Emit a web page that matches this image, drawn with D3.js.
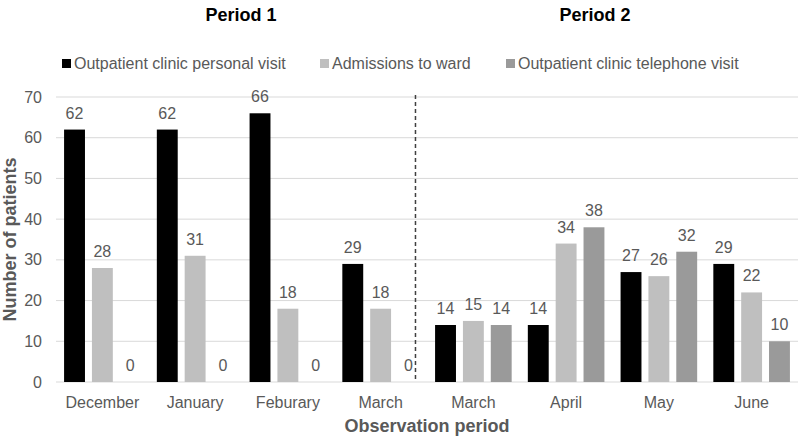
<!DOCTYPE html>
<html><head><meta charset="utf-8">
<script src="https://cdn.jsdelivr.net/npm/d3@7"></script>
<style>body{margin:0;background:#fff}svg{display:block;font-family:"Liberation Sans",Arial,sans-serif}</style>
</head><body><svg id="c" width="800" height="443"></svg>
<script>
const categories = ["December","January","Feburary","March","March","April","May","June"];
const seriesNames = ["Outpatient clinic personal visit","Admissions to ward","Outpatient clinic telephone visit"];
const personal = [62,62,66,29,14,14,27,29];
const admissions = [28,31,18,18,15,34,26,22];
const telephone = [0,0,0,0,14,38,32,10];
const yTicks = [0,10,20,30,40,50,60,70];
const periodTitles = ["Period 1","Period 2"];
const colors = ["#000000","#bfbfbf","#9a9a9a"];

const svg = d3.select("#c");
const m = {left:56, right:2, top:97, bottom:61};
const W = 800, H = 443;
const x = d3.scaleBand().domain(d3.range(categories.length)).range([m.left, W-m.right]).paddingInner(0).paddingOuter(0);
const y = d3.scaleLinear().domain([0,70]).range([H-m.bottom, m.top]);
const xs = d3.scaleBand().domain([0,1,2]).range([0, x.bandwidth()]).paddingInner(0.25).paddingOuter(0.29);

// gridlines
svg.append("g").selectAll("line").data(yTicks).join("line")
  .attr("x1", m.left).attr("x2", W-m.right)
  .attr("y1", d=>y(d)).attr("y2", d=>y(d))
  .attr("stroke", "#d9d9d9").attr("stroke-width", 1);

// y tick labels
svg.append("g").selectAll("text").data(yTicks).join("text")
  .attr("x", 42).attr("y", d=>y(d)).attr("dy","0.35em")
  .attr("text-anchor","end").attr("fill","#595959").attr("font-size",16)
  .text(d=>d);

const series = [personal, admissions, telephone];
series.forEach((vals, si) => {
  const g = svg.append("g");
  g.selectAll("rect").data(vals).join("rect")
    .attr("x", (d,i)=>x(i)+xs(si)).attr("width", xs.bandwidth())
    .attr("y", d=>y(d)).attr("height", d=>y(0)-y(d))
    .attr("fill", colors[si]);
  g.selectAll("text").data(vals).join("text")
    .attr("x", (d,i)=>x(i)+xs(si)+xs.bandwidth()/2)
    .attr("y", d=>y(d)-11)
    .attr("text-anchor","middle").attr("fill","#595959").attr("font-size",16)
    .text(d=>d);
});

// x labels
svg.append("g").selectAll("text").data(categories).join("text")
  .attr("x", (d,i)=>x(i)+x.bandwidth()/2).attr("y", 408)
  .attr("text-anchor","middle").attr("fill","#595959").attr("font-size",16)
  .text(d=>d);

// divider
const dx = x(3)+xs(2)+xs.bandwidth()/2+7;
svg.append("line").attr("x1",dx).attr("x2",dx).attr("y1",y(70)-2).attr("y2",y(0))
  .attr("stroke","#404040").attr("stroke-width",1.5).attr("stroke-dasharray","4,3");

// axis titles
svg.append("text").attr("x",(m.left+W-m.right)/2).attr("y",432)
  .attr("text-anchor","middle").attr("font-weight","bold").attr("font-size",18).attr("fill","#595959")
  .text("Observation period");
svg.append("text").attr("transform",`translate(16,${(y(0)+y(70))/2}) rotate(-90)`)
  .attr("text-anchor","middle").attr("font-weight","bold").attr("font-size",18).attr("fill","#595959")
  .text("Number of patients");

// period titles
svg.append("text").attr("x", 241).attr("y", 21).attr("text-anchor","middle")
  .attr("font-weight","bold").attr("font-size",18).attr("fill","#000").text(periodTitles[0]);
svg.append("text").attr("x", 595).attr("y", 21).attr("text-anchor","middle")
  .attr("font-weight","bold").attr("font-size",18).attr("fill","#000").text(periodTitles[1]);

// legend
const legX = [62, 320, 506];
const leg = svg.append("g");
seriesNames.forEach((n,i)=>{
  leg.append("rect").attr("x",legX[i]).attr("y",59).attr("width",9).attr("height",9).attr("fill",colors[i]);
  leg.append("text").attr("x",legX[i]+12).attr("y",63.5).attr("dy","0.35em")
    .attr("fill","#595959").attr("font-size",16).text(n);
});
</script></body></html>
